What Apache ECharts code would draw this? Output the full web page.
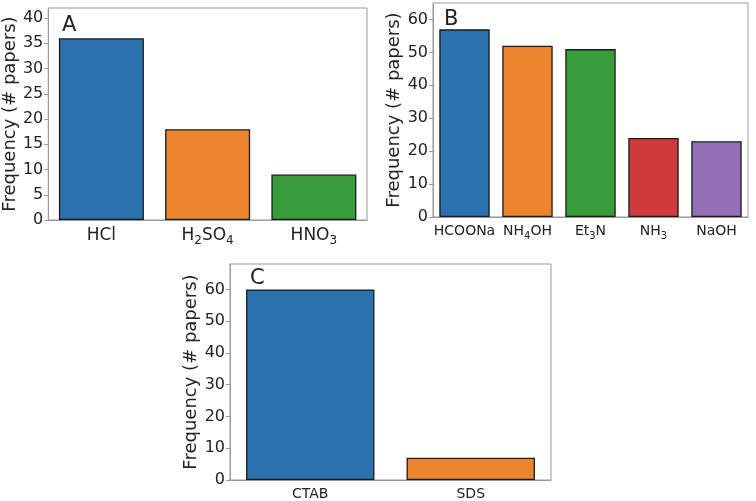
<!DOCTYPE html>
<html><head><meta charset="utf-8">
<script src="https://cdn.jsdelivr.net/npm/echarts@6/dist/echarts.min.js"></script>
<style>html,body{margin:0;padding:0;background:#fff}#c{width:756px;height:501px}</style>
</head><body><div id="c"></div>
<script>
// Panel A: acids
const catsA = ['HCl', 'H2SO4', 'HNO3'];
const valsA = [36, 18, 9];
// Panel B: bases / reducing agents
const catsB = ['HCOONa', 'NH4OH', 'Et3N', 'NH3', 'NaOH'];
const valsB = [57, 52, 51, 24, 23];
// Panel C: surfactants
const catsC = ['CTAB', 'SDS'];
const valsC = [60, 7];
// Y-axis limits / tick step
const yMax = [42, 65, 68];
const yStep = [5, 10, 10];
const panelLetters = ['A', 'B', 'C'];
const yName = 'Frequency (# papers)';

const palette = ['#2a72ad', '#ec8530', '#389c3a', '#cf3b3d', '#9470b8'];
const FONT = 'DejaVu Sans';
const TXT = '#222';
const FRAME = '#999';

function fmtChem(v) {
  return v.split(/(\d+)/).filter(s => s.length).map(s => /^\d+$/.test(s) ? '{s|' + s + '}' : '{n|' + s + '}').join('');
}

const grids = [
  {left: 47, top: 8, width: 320, height: 212},
  {left: 433, top: 3, width: 315, height: 214},
  {left: 230, top: 264, width: 321, height: 217}
];
const xFont = [17, 14, 14];
const cats = [catsA, catsB, catsC];
const vals = [valsA, valsB, valsC];

const option = {
  animation: false,
  backgroundColor: '#fff',
  title: [
    {text: panelLetters[0], left: 57, top: 10},
    {text: panelLetters[1], left: 439, top: 4},
    {text: panelLetters[2], left: 245, top: 263}
  ].map(t => Object.assign(t, {textStyle: {fontFamily: FONT, fontSize: 21, fontWeight: 'normal', color: TXT}})),
  grid: grids.map(g => Object.assign({show: true, borderColor: FRAME, borderWidth: 1, containLabel: false}, g)),
  xAxis: cats.map((c, i) => ({
    type: 'category', gridIndex: i, data: c,
    axisLine: {lineStyle: {color: FRAME}},
    axisTick: {alignWithLabel: true, interval: 0, length: 4, lineStyle: {color: FRAME}},
    axisLabel: {
      interval: 0, hideOverlap: false,
      margin: 4, color: TXT, formatter: fmtChem,
      rich: {
        n: {fontFamily: FONT, fontSize: xFont[i], color: TXT, lineHeight: xFont[i] + 6},
        s: {fontFamily: FONT, fontSize: Math.round(xFont[i] * 0.7), color: TXT, lineHeight: xFont[i] + 6, verticalAlign: 'bottom'}
      }
    }
  })),
  yAxis: cats.map((c, i) => ({
    type: 'value', gridIndex: i, min: 0, max: yMax[i], interval: yStep[i],
    name: yName, nameLocation: 'middle', nameGap: 27,
    nameTextStyle: {fontFamily: FONT, fontSize: 18, color: TXT},
    splitLine: {show: false},
    axisLine: {show: true, lineStyle: {color: FRAME}},
    axisTick: {show: true, length: 4, lineStyle: {color: FRAME}},
    axisLabel: {
      margin: 5, fontFamily: FONT, fontSize: 16, color: TXT, showMaxLabel: false,
      formatter: v => (v % yStep[i] === 0 ? String(v) : '')
    }
  })),
  series: vals.map((v, i) => ({
    type: 'bar', xAxisIndex: i, yAxisIndex: i, barWidth: '80%',
    data: v.map((y, j) => ({value: y, itemStyle: {color: palette[j], borderColor: '#1a1a1a', borderWidth: 1.3}}))
  }))
};
echarts.init(document.getElementById('c'), null, {renderer: 'canvas'}).setOption(option);
</script></body></html>
